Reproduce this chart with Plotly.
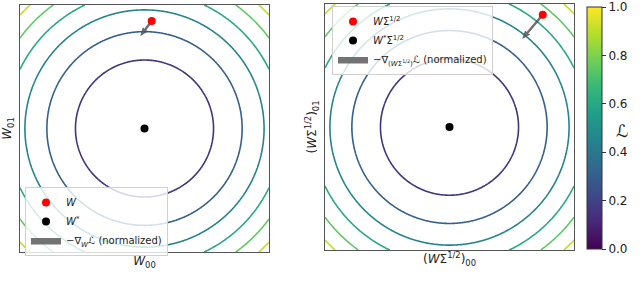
import numpy as np
import plotly.graph_objects as go
from plotly.colors import sample_colorscale

# ---- data ----
contour_levels = [0.15, 0.30, 0.45, 0.60, 0.75, 0.90]
loss_scale = 2.05                      # L = (x^2 + y^2) / loss_scale
w_left = [0.058, 0.87]                 # W
wstar_left = [0.0, 0.0]                # W*
grad_left = [-0.088, -0.116]           # -grad (normalized, drawn length)
w_right = [0.749, 0.913]               # W Sigma^1/2
wstar_right = [0.0, 0.0]               # W* Sigma^1/2
grad_right = [-0.161, -0.192]
cbar_ticks = [0.0, 0.2, 0.4, 0.6, 0.8, 1.0]
cbar_ticktext = ["0.0", "0.2", "0.4", "0.6", "0.8", "1.0"]

FONT = "DejaVu Sans"
W_FIG, H_FIG = 640, 299


def px(X):
    return X / W_FIG


def py(Y):
    return 1 - Y / H_FIG


grid = np.linspace(-1, 1, 301)
X, Y = np.meshgrid(grid, grid)
Z = (X ** 2 + Y ** 2) / loss_scale
level_colors = sample_colorscale("Viridis", contour_levels)


def arrow_poly(start, vec, shaft=0.014, head_w=0.045, head_l=0.06, head_al=0.054):
    s = np.array(start, float)
    v = np.array(vec, float)
    L = np.linalg.norm(v)
    u = v / L
    n = np.array([-u[1], u[0]])
    e = s + v
    pts = [s + n * shaft / 2,
           e - u * head_al + n * shaft / 2,
           e - u * head_l + n * head_w / 2,
           e,
           e - u * head_l - n * head_w / 2,
           e - u * head_al - n * shaft / 2,
           s - n * shaft / 2,
           s + n * shaft / 2]
    pts = np.array(pts)
    return pts[:, 0], pts[:, 1]


fig = go.Figure()

for xa, ya in (("x", "y"), ("x2", "y2")):
    for lev, col in zip(contour_levels, level_colors):
        fig.add_trace(go.Contour(
            x=grid, y=grid, z=Z, xaxis=xa, yaxis=ya,
            contours=dict(coloring="none", start=lev, end=lev, size=1),
            line=dict(width=1.6, color=col), showscale=False, showlegend=False,
            hoverinfo="skip"))

panels = [
    ("x", "y", w_left, wstar_left, grad_left, "legend",
     "<i>W</i>", "<i>W</i><sup>*</sup>",
     "−∇<sub><i>W</i></sub>ℒ (normalized)"),
    ("x2", "y2", w_right, wstar_right, grad_right, "legend2",
     "<i>W</i>Σ<sup>1/2</sup>", "<i>W</i><sup>*</sup>Σ<sup>1/2</sup>",
     "−∇<sub>(<i>W</i>Σ<sup>1/2</sup>)</sub>ℒ (normalized)"),
]
for xa, ya, w, ws, g, leg, n1, n2, n3 in panels:
    ax_, ay_ = arrow_poly(w, g)
    fig.add_trace(go.Scatter(
        x=ax_, y=ay_, xaxis=xa, yaxis=ya, mode="lines", fill="toself",
        fillcolor="rgba(90,90,90,0.85)", line=dict(color="#444", width=0.6),
        name=n3, legend=leg, legendrank=3, hoverinfo="skip"))
    fig.add_trace(go.Scatter(
        x=[w[0]], y=[w[1]], xaxis=xa, yaxis=ya, mode="markers",
        marker=dict(color="#ff0000", size=8), name=n1, legend=leg,
        legendrank=1))
    fig.add_trace(go.Scatter(
        x=[ws[0]], y=[ws[1]], xaxis=xa, yaxis=ya, mode="markers",
        marker=dict(color="#000000", size=8), name=n2, legend=leg,
        legendrank=2))

# colorbar
cb_top, cb_bot = 7, 249
fig.add_trace(go.Scatter(
    x=[None], y=[None], xaxis="x2", yaxis="y2", mode="markers",
    showlegend=False,
    marker=dict(color=[0], colorscale="Viridis", cmin=0, cmax=1,
                showscale=True,
                colorbar=dict(x=px(587), xanchor="left", y=py(cb_bot),
                              yanchor="bottom", len=(cb_bot - cb_top) / H_FIG,
                              lenmode="fraction",
                              thickness=15, thicknessmode="pixels",
                              outlinewidth=1, outlinecolor="#333",
                              ticks="outside", ticklen=4, tickcolor="#333",
                              tickvals=cbar_ticks, ticktext=cbar_ticktext,
                              tickfont=dict(size=12, color="#222", family=FONT),
                              xpad=0, ypad=0))))

ax_common = dict(range=[-1, 1], showgrid=False, zeroline=False,
                 showticklabels=False, ticks="", showline=True, mirror=True,
                 linecolor="#555", linewidth=1.3, automargin=False,
                 title_font=dict(size=12, color="#222", family=FONT),
                 title_standoff=4)

leg_common = dict(bgcolor="rgba(255,255,255,0.8)", bordercolor="#d0d0d0",
                  borderwidth=1, font=dict(size=10, color="#222", family=FONT),
                  xanchor="left", yanchor="top", tracegroupgap=0,
                  itemsizing="trace")

fig.update_layout(
    width=W_FIG, height=H_FIG,
    margin=dict(l=0, r=0, t=0, b=0, autoexpand=False),
    paper_bgcolor="white", plot_bgcolor="white",
    font=dict(family=FONT, color="#222"),
    xaxis=dict(domain=[px(20), px(269)], anchor="y",
               title=dict(text="<i>W</i><sub>00</sub>"), **ax_common),
    yaxis=dict(domain=[py(252), py(5)], anchor="x",
               title=dict(text="<i>W</i><sub>01</sub>"), **ax_common),
    xaxis2=dict(domain=[px(325), px(574)], anchor="y2",
                title=dict(text="(<i>W</i>Σ<sup>1/2</sup>)<sub>00</sub>"), **ax_common),
    yaxis2=dict(domain=[py(250), py(4)], anchor="x2",
                title=dict(text="(<i>W</i>Σ<sup>1/2</sup>)<sub>01</sub>"), **ax_common),
    legend=dict(x=px(25), y=py(187), **leg_common),
    legend2=dict(x=px(332), y=py(6), **leg_common),
    annotations=[dict(text="ℒ", x=px(630), y=py(131),
                      xref="paper", yref="paper", showarrow=False,
                      font=dict(size=17, color="#222", family=FONT))],
)

fig.write_html(
    "out.html",
    config={"displayModeBar": False},
    post_script="document.body.style.margin='0';"
                "document.body.style.overflow='hidden';")
